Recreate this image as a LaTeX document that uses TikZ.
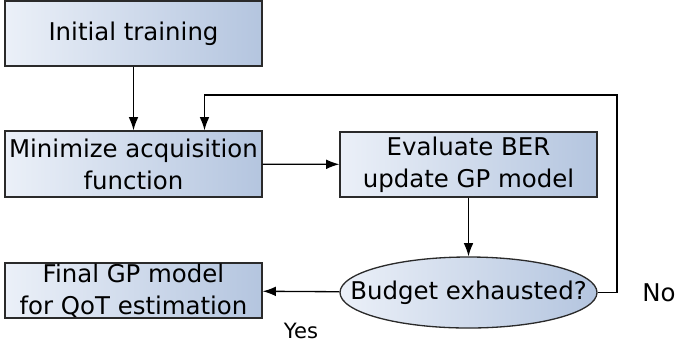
\documentclass[tikz,border=0pt]{standalone}
\usepackage{fontspec}
\setmainfont{DejaVu Sans}
\usetikzlibrary{shapes.geometric,arrows.meta}
\tikzset{>={Latex[length=7.5pt,width=5.5pt]}}
\definecolor{boxleft}{HTML}{EBF0F8}
\definecolor{boxright}{HTML}{B4C5DF}
\definecolor{boxline}{HTML}{2A2A2A}

\begin{document}
\begin{tikzpicture}[x=0.02cm,y=-0.02cm]
      \tikzstyle{box}=[draw=boxline,line width=0.75pt,left color=boxleft,right color=boxright,
        minimum width=257*0.02cm,inner sep=0pt,align=center,font=\fontsize{13.9}{18.3}\selectfont];
      \tikzstyle{decision}=[box,ellipse,inner xsep=-30*0.02cm,minimum height=71*0.02cm];
      \tikzstyle{flow}=[line width=0.75pt,->];
      \useasboundingbox (0,0) rectangle (675,349);
      \node[box,minimum height=65*0.02cm] (init) at (133.5,33.5) {Initial training};
      \node[box,minimum height=66*0.02cm] (acq) at (133.5,164) {Minimize acquisition\\function};
      \node[box,minimum height=65*0.02cm] (eval) at (468.5,164.5) {Evaluate BER\\update GP model};
      \node[decision] (budget) at (468.5,292.5) {Budget exhausted?};
      \node[box,minimum height=55*0.02cm] (final) at (133.5,290.5) {Final GP model\\for QoT estimation};
      \node[font=\fontsize{13.9}{17}\selectfont] (no) at (659,293) {No};
      \node[font=\fontsize{12}{15}\selectfont] (yes) at (301,331) {Yes};
      \coordinate (turn) at (617,95);

      \draw[flow](init)--(acq);
      \draw[flow](acq)--(eval);
      \draw[flow](eval)--(budget);
      \draw[flow](budget)--(final);
      \draw[flow](budget.east)-|(turn)-|([xshift=71*0.02cm]acq.north);
    \end{tikzpicture}
\end{document}
